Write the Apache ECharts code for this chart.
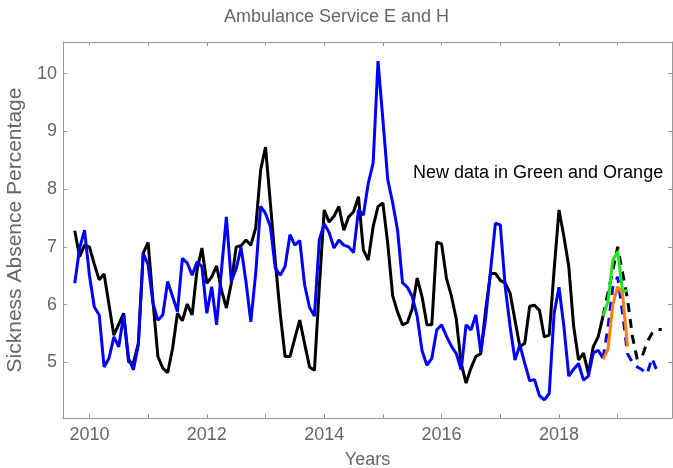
<!DOCTYPE html>
<html>
<head>
<meta charset="utf-8">
<script src="https://cdn.jsdelivr.net/npm/echarts@6/dist/echarts.min.js"></script>
<style>
  html, body { margin: 0; padding: 0; background: #fff; }
  #chart { width: 673px; height: 468px; }
</style>
</head>
<body>
<div id="chart"></div>
<script>
  // monthly values, first month Oct 2009
  var startYear = 2009.75;

  var blackMonthly = [
    7.28, 6.83, 7.03, 7.0, 6.7, 6.43, 6.53, 6.0, 5.47, 5.66,
    5.85, 5.01, 4.99, 5.33, 6.89, 7.08, 6.05, 5.1, 4.9, 4.82,
    5.24, 5.85, 5.72, 6.01, 5.82, 6.6, 6.98, 6.37, 6.48, 6.67,
    6.25, 5.94, 6.37, 7.0, 7.02, 7.12, 7.03, 7.33, 8.33, 8.73,
    7.75, 6.75, 5.85, 5.1, 5.1, 5.42, 5.73, 5.32, 4.92, 4.86,
    6.3, 7.64, 7.43, 7.53, 7.7, 7.29, 7.52, 7.61, 7.87, 6.95,
    6.77, 7.35, 7.7, 7.76, 7.05, 6.15, 5.87, 5.65, 5.69, 5.93,
    6.46, 6.14, 5.65, 5.65, 7.08, 7.05, 6.45, 6.15, 5.75, 4.98,
    4.64, 4.9, 5.1, 5.15, 5.9, 6.54, 6.54, 6.42, 6.37, 6.2,
    5.73, 5.27, 5.33, 5.97, 5.99, 5.9, 5.44, 5.47, 6.6, 7.64,
    7.18, 6.66, 5.62, 5.04, 5.16, 4.81, 5.27, 5.44, 5.8
  ];

  var blueMonthly = [
    6.37, 6.98, 7.29, 6.51, 5.96, 5.82, 4.92, 5.07, 5.44, 5.27,
    5.82, 5.07, 4.87, 5.3, 6.89, 6.69, 6.02, 5.73, 5.82, 6.4,
    6.14, 5.88, 6.8, 6.72, 6.51, 6.74, 6.66, 5.85, 6.31, 5.65,
    6.6, 7.52, 6.4, 6.62, 6.99, 6.4, 5.7, 6.55, 7.7, 7.58,
    7.35, 6.63, 6.51, 6.66, 7.21, 7.03, 7.11, 6.34, 5.95, 5.8,
    7.12, 7.4, 7.25, 6.98, 7.12, 7.03, 7.0, 6.9, 7.64, 7.55,
    8.1, 8.45, 10.22, 9.2, 8.16, 7.76, 7.29, 6.38, 6.3, 6.14,
    5.8, 5.2, 4.95, 5.07, 5.56, 5.65, 5.45, 5.28, 5.15, 4.87,
    5.65, 5.56, 5.82, 5.18, 5.76, 6.58, 7.41, 7.38, 6.31, 5.62,
    5.04, 5.3, 4.98, 4.68, 4.7, 4.42, 4.35, 4.46, 5.85, 6.3,
    5.62, 4.76, 4.88, 4.98, 4.69, 4.76, 5.16, 5.21, 5.07
  ];

  // dashed continuations and new data start at month index 108 (Oct 2018)
  var newStart = 108;
  var blackDashed = [5.8, 6.2, 6.6, 7.0, 6.55, 6.1, 5.45, 5.05, 5.1, 5.35, 5.5, 5.57, 5.57];
  var blueDashed = [5.07, 5.6, 6.3, 6.48, 5.85, 5.15, 5.0, 4.92, 4.87, 4.8, 5.07, 4.86];
  var greenNew = [5.8, 6.05, 6.77, 6.92, 6.22, 6.25];
  var orangeNew = [5.05, 5.22, 6.0, 6.31, 6.18, 5.27];

  var yearTicks = [2010, 2011, 2012, 2013, 2014, 2015, 2016, 2017, 2018, 2019];
  var yearLabels = [2010, 2012, 2014, 2016, 2018];
  var valueTicks = [5, 6, 7, 8, 9, 10];

  function pairs(values, offset) {
    return values.map(function (v, i) {
      return [startYear + (offset + i) / 12, v];
    });
  }

  var gray = '#999';
  var textGray = '#666';
  var font = 'Liberation Sans';

  var chart = echarts.init(document.getElementById('chart'));

  function xAxisDef(pos, show) {
    return {
      type: 'value',
      position: pos,
      min: 2009.55,
      max: 2019.925,
      splitLine: { show: false },
      axisLine: { show: true, onZero: false, lineStyle: { color: gray, width: 1 } },
      axisTick: { show: true, inside: true, length: 4, lineStyle: { color: gray }, customValues: yearTicks },
      axisLabel: {
        show: show, color: textGray, fontSize: 18, fontFamily: font, margin: 8,
        customValues: yearLabels, formatter: function (v) { return String(v); }
      },
      name: show ? 'Years' : '',
      nameLocation: 'middle',
      nameGap: 33,
      nameTextStyle: { color: textGray, fontSize: 18, fontFamily: font }
    };
  }

  function yAxisDef(pos, show) {
    return {
      type: 'value',
      position: pos,
      min: 4.035,
      max: 10.55,
      splitLine: { show: false },
      axisLine: { show: true, onZero: false, lineStyle: { color: gray, width: 1 } },
      axisTick: { show: true, inside: true, length: 4, lineStyle: { color: gray }, customValues: valueTicks },
      axisLabel: {
        show: show, color: textGray, fontSize: 18, fontFamily: font, margin: 6,
        customValues: valueTicks, formatter: function (v) { return String(v); }
      },
      name: show ? 'Sickness Absence Percentage' : '',
      nameLocation: 'middle',
      nameGap: 34,
      nameTextStyle: { color: textGray, fontSize: 21, fontFamily: font }
    };
  }

  var option = {
    animation: false,
    backgroundColor: '#fff',
    title: {
      text: 'Ambulance Service E and H',
      left: 'center',
      top: 3,
      textStyle: { color: textGray, fontSize: 18, fontWeight: 'normal', fontFamily: font }
    },
    grid: { left: 63, right: 1, top: 42, bottom: 50, containLabel: false, outerBoundsMode: 'none' },
    xAxis: [xAxisDef('bottom', true), xAxisDef('top', false)],
    yAxis: [yAxisDef('left', true), yAxisDef('right', false)],
    graphic: [{
      type: 'text',
      left: 413,
      top: 164,
      style: { text: 'New data in Green and Orange', fill: '#000', fontSize: 18, fontFamily: font }
    }],
    series: [
      {
        name: 'black', type: 'line', data: pairs(blackMonthly, 0), showSymbol: false,
        lineStyle: { color: '#000', width: 3 }, z: 2
      },
      {
        name: 'blackDashed', type: 'line', data: pairs(blackDashed, newStart), showSymbol: false,
        lineStyle: { color: '#000', width: 3, type: [9, 7] }, z: 2
      },
      {
        name: 'blue', type: 'line', data: pairs(blueMonthly, 0), showSymbol: false,
        lineStyle: { color: '#0000ff', width: 3 }, z: 3
      },
      {
        name: 'blueDashed', type: 'line', data: pairs(blueDashed, newStart), showSymbol: false,
        lineStyle: { color: '#0000ff', width: 3, type: [9, 7] }, z: 3
      },
      {
        name: 'green', type: 'line', data: pairs(greenNew, newStart), showSymbol: false,
        lineStyle: { color: '#1ee81e', width: 3 }, z: 4
      },
      {
        name: 'orange', type: 'line', data: pairs(orangeNew, newStart), showSymbol: false,
        lineStyle: { color: '#ff7f0e', width: 3 }, z: 5
      }
    ]
  };

  chart.setOption(option);
</script>
</body>
</html>
